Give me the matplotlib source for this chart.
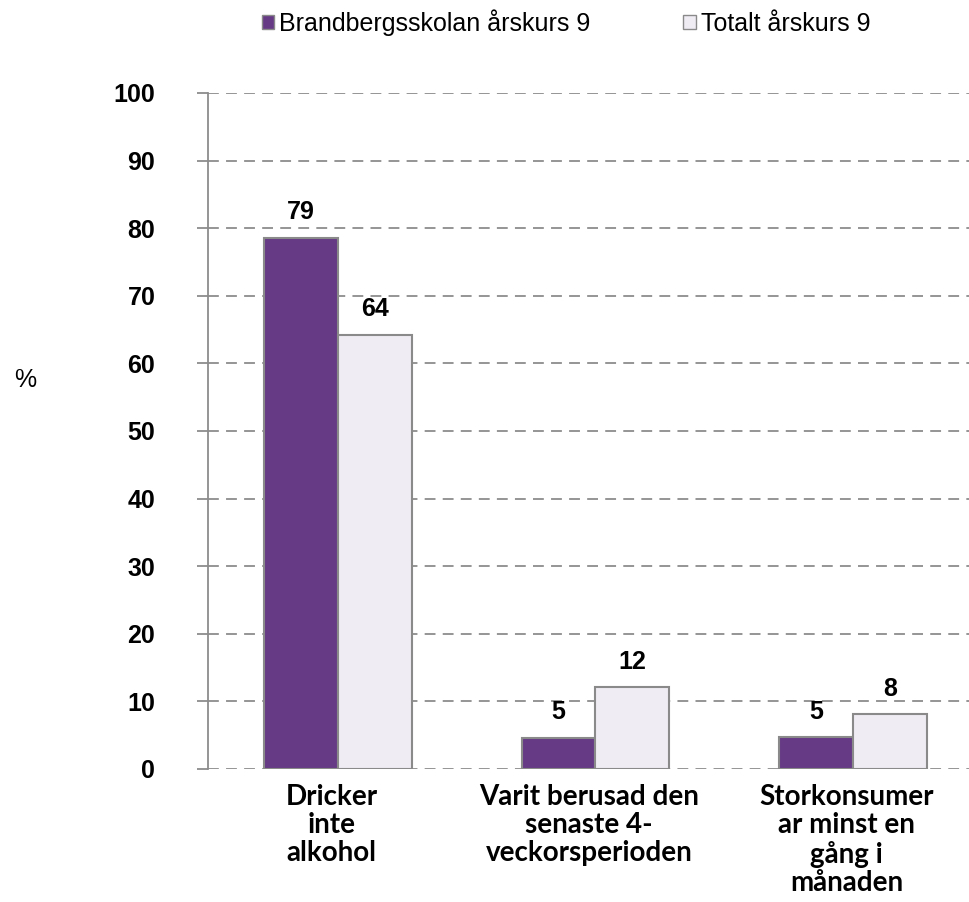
import numpy as np
import matplotlib.pyplot as plt
from matplotlib.patches import Rectangle

categories = ['Dricker\ninte\nalkohol',
              'Varit berusad den\nsenaste 4-\nveckorsperioden',
              'Storkonsumer\nar minst en\ngång i\nmånaden']
series_names = ['Brandbergsskolan årskurs 9', 'Totalt årskurs 9']
school = [78.6, 4.6, 4.7]
total = [64.2, 12.1, 8.1]
school_lbl = ['79', '5', '5']
total_lbl = ['64', '12', '8']
yticks = list(range(0, 101, 10))

c_school = '#663a85'
c_total = '#efecf4'
c_edge = '#8a8a8a'
c_grid = '#8c8c8c'

fig = plt.figure(figsize=(9.69, 9.02), dpi=100)
ax = fig.add_axes([0.2147, 0.1475, 0.7853, 0.7495])

x = np.arange(len(categories))
w = 0.287
ax.bar(x - w/2, school, w, color=c_school, edgecolor=c_edge, linewidth=1.5, zorder=3)
ax.bar(x + w/2, total, w, color=c_total, edgecolor=c_edge, linewidth=1.5, zorder=3)

for i in range(len(categories)):
    ax.text(x[i] - w/2, school[i] + 2.0, school_lbl[i], ha='center', va='bottom',
            fontsize=18, fontweight='bold', family='Liberation Sans')
    ax.text(x[i] + w/2, total[i] + 2.0, total_lbl[i], ha='center', va='bottom',
            fontsize=18, fontweight='bold', family='Liberation Sans')

ax.set_xlim(-0.504, 2.45)
ax.set_ylim(0, 100)
ax.set_yticks(yticks)
ax.set_yticklabels([str(t) for t in yticks], fontsize=18, fontweight='bold',
                   family='Liberation Sans')
ax.yaxis.grid(True, color=c_grid, linestyle=(0, (6, 4)), linewidth=1.3, zorder=0)
ax.set_axisbelow(True)
ax.tick_params(axis='y', length=8, color=c_grid, width=1.3, pad=30)
ax.tick_params(axis='x', length=0, pad=11)
ax.set_xticks(x - 0.025)
ax.set_xticklabels(categories, fontsize=20, fontweight='bold', family='Lato',
                   linespacing=1.1, va='top')
for s in ['top', 'right', 'bottom']:
    ax.spines[s].set_visible(False)
ax.spines['left'].set_color(c_grid)
ax.spines['left'].set_linewidth(1.3)

fig.text(0.0145, 0.579, '%', fontsize=18, family='Liberation Sans', ha='left', va='center')

# legend
handles = [Rectangle((0, 0), 1, 1, facecolor=c_school, edgecolor=c_edge),
           Rectangle((0, 0), 1, 1, facecolor=c_total, edgecolor=c_edge)]
leg = fig.legend(handles, series_names, loc='upper center', bbox_to_anchor=(0.584, 1.015),
                 ncol=2, frameon=False, handlelength=0.5, handleheight=0.5,
                 handletextpad=0.2, columnspacing=3.7,
                 prop={'family': 'Liberation Sans', 'size': 18})

fig.savefig('out.png', dpi=100)
